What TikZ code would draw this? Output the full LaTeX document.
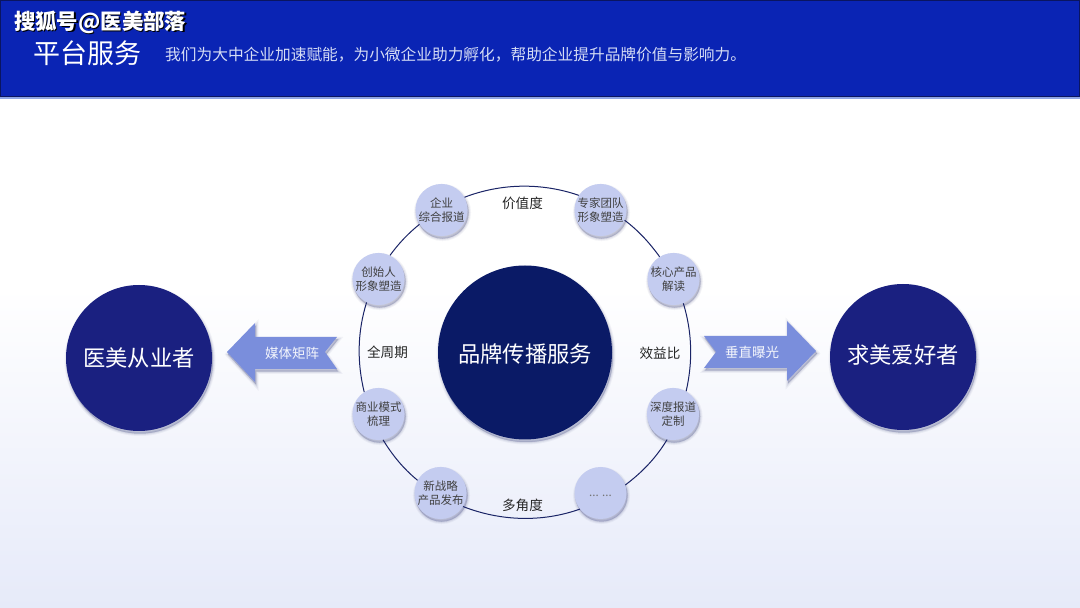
\documentclass[tikz,border=0pt]{standalone}
\usepackage{fontspec}
\setmainfont{Noto Sans CJK SC}
\definecolor{hdr}{HTML}{0A24B4}
\definecolor{hdrdark}{HTML}{0A1560}
\definecolor{hdrline}{HTML}{8FA6E6}
\definecolor{navy}{HTML}{0A1A66}
\definecolor{sidenavy}{HTML}{1A2080}
\definecolor{pale}{HTML}{C4CCF0}
\definecolor{arrowblue}{HTML}{7A8EDC}
\definecolor{bottombg}{HTML}{E6EAF9}
\definecolor{ringc}{HTML}{1A2466}
\definecolor{subc}{HTML}{D5DCF5}
\definecolor{shadowc}{HTML}{2A3270}
\newcommand{\shiftedtext}[2]{\raisebox{#1}[\height][\depth]{#2}}
\tikzset{
  softshadow/.style={
    preaction={draw=shadowc,fill=shadowc,line width=5pt,opacity=.05,transform canvas={shift={(1pt,-2.5pt)}}},
    preaction={draw=shadowc,fill=shadowc,line width=3pt,opacity=.08,transform canvas={shift={(1pt,-2.5pt)}}},
    preaction={draw=shadowc,fill=shadowc,line width=1pt,opacity=.12,transform canvas={shift={(1pt,-2.5pt)}}}},
  smallc/.style={circle,fill=pale,minimum size=52pt,inner sep=0pt,softshadow,align=center,font=\fontsize{11.5}{14}\selectfont,text=black!75},
  bigc/.style={circle,fill=sidenavy,minimum size=146pt,inner sep=0pt,softshadow,text=white,font=\fontsize{22.3}{26}\selectfont},
  corec/.style={circle,fill=navy,minimum size=174pt,inner sep=0pt,softshadow,text=white,font=\fontsize{22.3}{26}\selectfont},
  ringline/.style={draw=ringc,line width=1pt,looseness=.88},
  ringlabel/.style={inner sep=0pt,text=black!85,font=\fontsize{13.6}{16}\selectfont},
  arrowshape/.style={fill=arrowblue,draw=none,softshadow},
  arrowlabel/.style={inner sep=0pt,text=white!92!arrowblue,font=\fontsize{13.5}{16}\selectfont}
}
\begin{document}
\begin{tikzpicture}[x=1pt,y=1pt]
\useasboundingbox (0,0) rectangle (1080,608);
\fill[white] (0,0) rectangle (1080,608);
\shade[top color=white,bottom color=bottombg] (0,0) rectangle (1080,320);
% header
\fill[hdrline] (0,509) rectangle (1080,511);
\fill[hdrdark] (0,510.5) rectangle (1080,608);
\fill[hdr] (1,512) rectangle (1079,607);
\node[anchor=west,inner sep=0pt,text=white,font=\fontsize{27}{30}\selectfont] (title) at (33,555) {平台服务};
\node[anchor=west,inner sep=0pt,text=subc,font=\fontsize{15.7}{18}\selectfont] (subtitle) at (165,553) {我们为大中企业加速赋能^^^^ff0c为小微企业助力孵化^^^^ff0c帮助企业提升品牌价值与影响力。};
\node[anchor=west,inner sep=0pt,text=black,font=\bfseries\fontsize{21.4}{24}\selectfont] (markshadow) at (15.2,584.8) {搜狐号@医美部落};
\node[anchor=west,inner sep=0pt,text=white,font=\bfseries\fontsize{21.4}{24}\selectfont] (mark) at (14,586) {搜狐号@医美部落};
% small circles
\node[smallc] (a) at (441.5,398) {企业\\综合报道};
\node[smallc] (b) at (600.5,398) {专家团队\\形象塑造};
\node[smallc] (c) at (673.5,329) {核心产品\\解读};
\node[smallc] (d) at (673,194) {深度报道\\定制};
\node[smallc] (e) at (600.5,115) {\shiftedtext{-3pt}{\textcolor{black!55}{... ...}}};
\node[smallc] (f) at (440.5,115) {新战略\\产品发布};
\node[smallc] (g) at (378.5,194) {商业模式\\梳理};
\node[smallc] (h) at (378.5,329) {创始人\\形象塑造};
% ring
\draw[ringline] (a.29) to[out=21,in=161] (b.146);
\draw[ringline] (b.-23) to[out=-37,in=126] (c.122);
\draw[ringline] (c.-68) to[out=-73,in=77] (d.60.5);
\draw[ringline] (d.-103) to[out=-121,in=37] (e.18);
\draw[ringline] (e.-142) to[out=-160.5,in=-21.4] (f.-31);
\draw[ringline] (f.151) to[out=140.6,in=-58.6] (g.-80);
\draw[ringline] (g.123) to[out=103.8,in=-107.3] (h.-117.5);
\draw[ringline] (h.64.4) to[out=54.1,in=-141] (a.-147);
% centre and sides
\node[corec] (core) at (525,255.5) {\shiftedtext{-2pt}{品牌传播服务}};
\node[bigc] (left) at (139,250) {医美从业者};
\node[bigc] (right) at (903,251) {\shiftedtext{2pt}{求美爱好者}};
% ring labels
\node[ringlabel] (top) at (522.5,405) {价值度};
\node[ringlabel] (bot) at (522.5,103) {多角度};
\node[ringlabel] (lft) at (387.5,256) {全周期};
\node[ringlabel] (rgt) at (660,255) {效益比};
% arrows
\path[arrowshape] (227,256) -- (255,285) -- (255,271) -- (337,271) -- (325,256) -- (337,239) -- (255,239) -- (255,226) -- cycle;
\node[arrowlabel] (media) at (292,254.5) {媒体矩阵};
\path[arrowshape] (816,257) -- (787,287) -- (787,272) -- (704,272) -- (716,256) -- (704,240) -- (787,240) -- (787,227) -- cycle;
\node[arrowlabel] (expo) at (752,255.5) {垂直曝光};
\end{tikzpicture}
\end{document}
